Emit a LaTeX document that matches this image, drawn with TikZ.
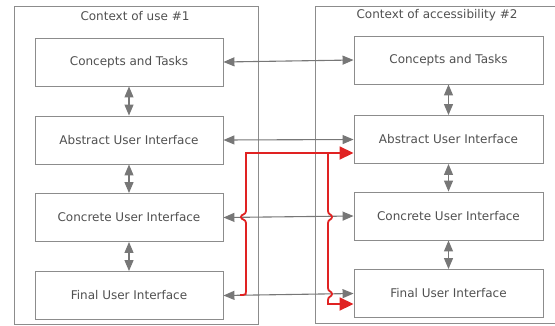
\documentclass[tikz,border=0pt]{standalone}
\usepackage{fontspec}
\setmainfont{DejaVu Sans}
\usepackage{xcolor}
\definecolor{framegrey}{HTML}{8C8C8C}
\definecolor{linkgrey}{HTML}{777777}
\definecolor{textgrey}{HTML}{505050}
\definecolor{adaptred}{HTML}{E02222}
\usepackage{tikz}
\usetikzlibrary{arrows.meta}

\begin{document}
\begin{tikzpicture}[x=1pt,y=-1pt,
    frame/.style={draw=framegrey, line width=1pt},
    box/.style={draw=framegrey, line width=0.9pt, fill=white,
      minimum height=48pt, text=textgrey, font=\fontsize{12}{14}\selectfont},
    title/.style={text=textgrey, font=\fontsize{12}{14}\selectfont},
    link/.style={draw=linkgrey, line width=1.1pt,
      {Triangle[length=11pt,width=9pt]}-{Triangle[length=11pt,width=9pt]}},
    redlink/.style={draw=adaptred, line width=1.8pt,
      -{Triangle[length=14pt,width=13pt]}}]
  \clip (0,0) rectangle (555,325);
  % Two contexts
  \draw[frame] (14,6) rectangle (258,324);
  \draw[frame] (315,6) rectangle (570,323);
  \node[title] (useTitle) at (135,16) {Context of use \#1};
  \node[title] (accTitle) at (437,15) {Context of accessibility \#2};
  % Levels of both contexts
  \foreach \lvl/\txt/\yu/\ya in {ct/Concepts and Tasks/62/60,
      aui/Abstract User Interface/140/139.5,
      cui/Concrete User Interface/217.5/216,
      fui/Final User Interface/295.5/293.5} {
    \node[box, minimum width=188pt] (\lvl Use) at (129,\yu) {\txt};
    \node[box, minimum width=189pt] (\lvl Acc) at (448.5,\ya) {\txt};
  }
  % Links between levels
  \foreach \a/\b in {ct/aui,aui/cui,cui/fui} {
    \draw[link] (\a Use) -- (\b Use);
    \draw[link] (\a Acc) -- (\b Acc);
  }
  % Links between contexts
  \foreach \lvl in {ct,aui,cui,fui} {
    \draw[link] (\lvl Use.east) -- (\lvl Acc.west);
  }
  % Adaptation paths
  \coordinate (redStart) at (240,295);
  \coordinate (redCorner) at (246,153);
  \coordinate (redJoin) at (328,153);
  \draw[redlink] (redStart) -- (243,295) .. controls (246,295) and (246,294) .. (246,291)
    -- (246,223) .. controls (246,219) and (241,220) .. (241,217)
    .. controls (241,214) and (246,215) .. (246,211)
    -- (redCorner) -- (redCorner -| auiAcc.west);
  \draw[redlink] (redJoin) -- (328,211) .. controls (328,215) and (332,214) .. (332,217)
    .. controls (332,220) and (328,219) .. (328,223)
    -- (328,288) .. controls (328,292) and (332,291) .. (332,294)
    .. controls (332,297) and (328,296) .. (328,300)
    -- (328,304) -- ([yshift=-10.5pt]fuiAcc.west);
\end{tikzpicture}
\end{document}
